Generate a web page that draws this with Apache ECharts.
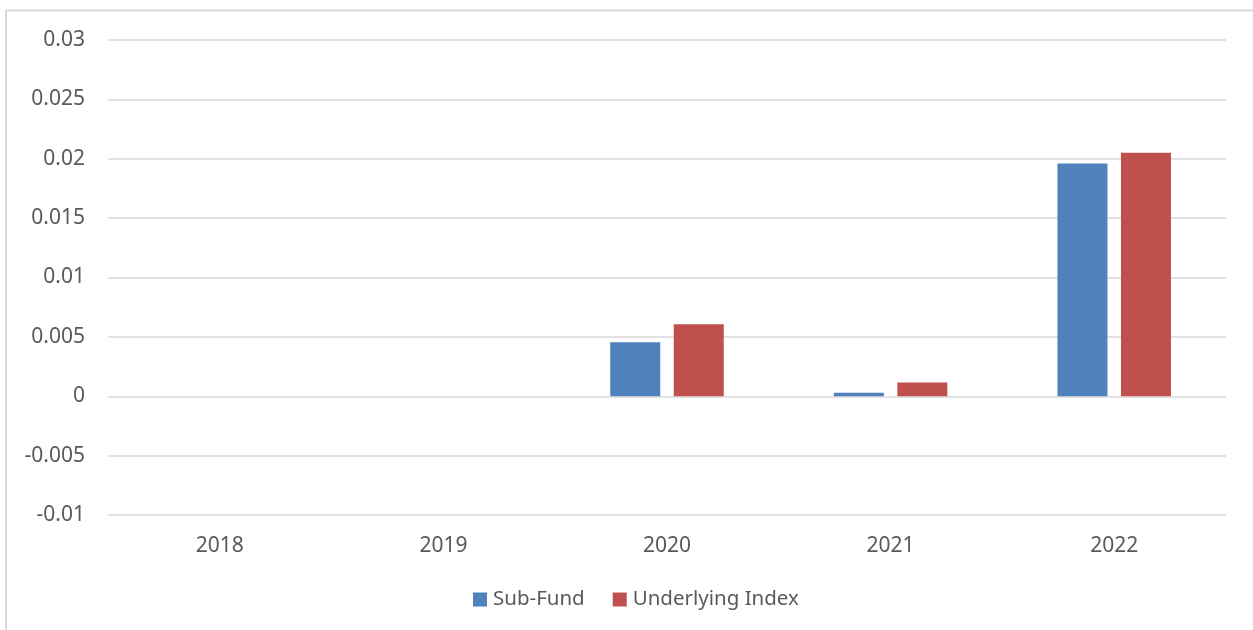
<!DOCTYPE html>
<html>
<head>
<meta charset="utf-8">
<script src="https://cdn.jsdelivr.net/npm/echarts@6/dist/echarts.min.js"></script>
<style>
  html, body { margin: 0; padding: 0; background: #fff; }
  #chart { width: 1253px; height: 630px; }
</style>
</head>
<body>
<div id="chart"></div>
<script>
// 数据
var years = ['2018', '2019', '2020', '2021', '2022']
var subFund = [null, null, 0.00455, 0.0003, 0.0196]
var underlyingIndex = [null, null, 0.00607, 0.00116, 0.0205]
var yTicks = [-0.01, -0.005, 0, 0.005, 0.01, 0.015, 0.02, 0.025, 0.03]

var myChart = echarts.init(document.getElementById('chart'));

var fontFamily = '"Noto Sans", sans-serif'

myChart.setOption({
    animation: false,
    textStyle: { fontFamily: fontFamily },
    // 外边框
    graphic: [
        { type: 'line', shape: { x1: 5, y1: 10.5, x2: 1253, y2: 10.5 }, style: { stroke: '#d9d9d9', lineWidth: 2 } },
        { type: 'line', shape: { x1: 6, y1: 10, x2: 6, y2: 630 }, style: { stroke: '#d9d9d9', lineWidth: 2 } }
    ],
    grid: {
        left: 108,
        right: 27,
        top: 40,
        bottom: 115
    },
    legend: {
        data: ['Sub-Fund', 'Underlying Index'],
        bottom: 15,
        left: 468,
        itemWidth: 14,
        itemHeight: 14,
        itemGap: 28,
        icon: 'rect',
        textStyle: { fontSize: 20.5, color: '#595959', fontFamily: fontFamily, padding: [0, 0, 0, 1] }
    },
    xAxis: {
        type: 'category',
        data: years,
        axisLine: { show: false },
        axisTick: { show: false },
        axisLabel: { fontSize: 21, color: '#595959', margin: 21 }
    },
    yAxis: {
        type: 'value',
        min: yTicks[0],
        max: yTicks[yTicks.length - 1],
        interval: 0.005,
        axisLine: { show: false },
        axisTick: { show: false },
        axisLabel: {
            fontSize: 21,
            color: '#595959',
            margin: 23,
            formatter: function (v) {
                return String(parseFloat(v.toFixed(4)))
            }
        },
        splitLine: { lineStyle: { color: '#d9d9d9', width: 1.5 } }
    },
    series: [{
        name: 'Sub-Fund',
        type: 'bar',
        data: subFund,
        barWidth: 50,
        barGap: '27%',
        itemStyle: { color: '#4f81bd' }
    }, {
        name: 'Underlying Index',
        type: 'bar',
        data: underlyingIndex,
        barWidth: 50,
        itemStyle: { color: '#c0504d' }
    }]
});
</script>
</body>
</html>
